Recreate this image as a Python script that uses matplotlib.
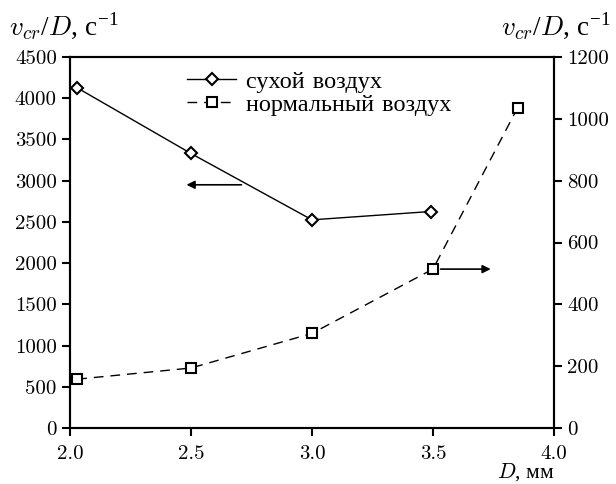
import matplotlib
matplotlib.use("Agg")
import matplotlib.pyplot as plt

# dry air (left axis)
d_dry = [2.03, 2.5, 3.0, 3.49]
v_dry = [4126, 3330, 2525, 2626]
# normal air (right axis)
d_norm = [2.03, 2.5, 3.0, 3.5, 3.85]
v_norm = [158, 194, 306, 514, 1036]

labels = ["сухой воздух", "нормальный воздух"]

plt.rcParams['font.family'] = ['cmr10', 'Liberation Serif']
plt.rcParams['mathtext.fontset'] = 'custom'
plt.rcParams['mathtext.rm'] = 'Liberation Serif'
plt.rcParams['mathtext.it'] = 'cmmi10'
plt.rcParams['axes.formatter.use_mathtext'] = False
plt.rcParams['font.size'] = 15

fig = plt.figure(figsize=(6.16, 4.84), dpi=100)
ax = fig.add_axes([0.1136, 0.1157, 0.7857, 0.7665])
ax2 = ax.twinx()

l1, = ax.plot(d_dry, v_dry, color='black', lw=1.0, marker='D', ms=6.6,
              mfc='white', mec='black', mew=1.5, label=labels[0])
l2, = ax2.plot(d_norm, v_norm, color='black', lw=1.0, ls=(0, (7, 5)), marker='s', ms=7.3,
               mfc='white', mec='black', mew=1.5, label=labels[1])

ax.set_xlim(2.0, 4.0)
ax.set_ylim(0, 4500)
ax2.set_ylim(0, 1200)
ax.set_xticks([2.0, 2.5, 3.0, 3.5, 4.0])
ax.set_xticklabels(["2.0", "2.5", "3.0", "3.5", "4.0"])
ax.set_yticks(range(0, 4501, 500))
ax2.set_yticks(range(0, 1201, 200))

for a in (ax, ax2):
    for s in a.spines.values():
        s.set_linewidth(1.5)
    a.tick_params(direction='out', length=6, width=1.5, labelsize=15)
ax.tick_params(axis='x', pad=6)

# arrows pointing to the axes
ax.annotate("", xy=(2.47, 2950), xytext=(2.72, 2950),
            arrowprops=dict(arrowstyle='-|>', color='black', lw=1.2, mutation_scale=12))
ax2.annotate("", xy=(3.75, 514), xytext=(3.52, 514),
             arrowprops=dict(arrowstyle='-|>', color='black', lw=1.2, mutation_scale=12))

lab_font = 'Liberation Serif'
ax.text(-0.125, 1.04, r"$v_{cr}/D$, с$^{-1}$", transform=ax.transAxes, ha='left', va='bottom',
        fontsize=19.5, fontfamily=lab_font)
ax.text(1.116, 1.04, r"$v_{cr}/D$, с$^{-1}$", transform=ax.transAxes, ha='right', va='bottom',
        fontsize=19.5, fontfamily=lab_font)
ax.set_xlabel(r"$D$, мм", loc='right', fontsize=15.5, fontfamily=lab_font)
ax.xaxis.set_label_coords(1.0, -0.09)

ax2.legend([l1, l2], labels, loc='upper left', bbox_to_anchor=(0.215, 1.0), frameon=False,
           fontsize=17.5, handlelength=2.0, handletextpad=0.4, borderaxespad=0.15, labelspacing=0.05)

fig.savefig("out.png", dpi=100)
